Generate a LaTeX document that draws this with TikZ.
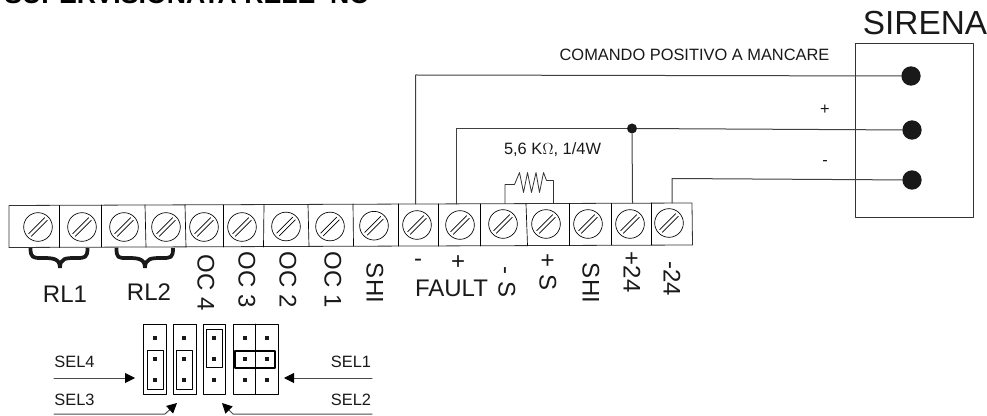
\documentclass[tikz,border=0pt]{standalone}
\usepackage{fontspec}
\setmainfont{Liberation Sans}
\usetikzlibrary{arrows.meta}
\tikzset{
  screw/.style={circle,draw,line width=0.5pt,inner sep=0pt,minimum size=21.5pt,
    path picture={\draw [line width=0.5pt] (-7pt,-5pt)-- (5pt,7pt);
      \draw [line width=0.5pt] (-5pt,-7pt)-- (7pt,5pt);}},
  wire/.style={line width=0.75pt,color=black!75},
  sel/.style={line width=0.75pt,color=black!70,-{Triangle[length=7.5pt,width=7.5pt,color=black]}},
  pin/.style={rectangle,fill=black!90,inner sep=0pt,minimum size=3.6pt},
  dot/.style={circle,fill=black!90,inner sep=0pt,minimum size=14.5pt},
  small/.style={font=\fontsize{12.3}{14}\selectfont,color=black!90,inner sep=0pt},
  big/.style={font=\fontsize{18}{20}\selectfont,color=black!90,inner sep=0pt},
  brace/.style={line width=2.8pt,line cap=butt,color=black!90},
}
\begin{document}
\begin{tikzpicture}[line cap=round,line join=round,x=0.75pt,y=-0.75pt]
\useasboundingbox (0,0) rectangle (987,416);
\node [anchor=base west,inner sep=0pt,font=\fontsize{20}{24}\bfseries\selectfont] (title) at (4,4) {SUPERVISIONATA RELE' NC};
% morsettiera
\draw [line width=0.6pt,color=black!80] (9,205.5)-- (692,203)-- (692.5,245)-- (9,247.5)-- cycle;
\draw [line width=0.5pt] (59,205.5)-- (59,247.5);
\draw [line width=0.5pt] (101,205)-- (101,247);
\draw [line width=0.5pt] (145,205)-- (146,247);
\draw [line width=0.5pt] (185,205)-- (186,247);
\draw [line width=0.5pt] (223,205)-- (223,247);
\draw [line width=0.5pt] (264,205)-- (263.5,247);
\draw [line width=0.5pt] (308,204.5)-- (309,246.5);
\draw [line width=0.5pt] (353,204)-- (353.5,246);
\draw [line width=0.5pt] (398,204)-- (398,246);
\draw [line width=0.5pt] (438,204)-- (438,246);
\draw [line width=0.5pt] (480,204)-- (480,246);
\draw [line width=0.5pt] (526,204)-- (527.5,245.5);
\draw [line width=0.5pt] (569,203.5)-- (569,245.5);
\draw [line width=0.5pt] (611,203.5)-- (611,245);
\draw [line width=0.5pt] (651,203)-- (651,245);
\node [screw] (t1) at (38,227) {};
\node [screw] (t2) at (82,227) {};
\node [screw] (t3) at (124,227) {};
\node [screw] (t4) at (166,227) {};
\node [screw] (t5) at (204,227) {};
\node [screw] (t6) at (242,227) {};
\node [screw] (t7) at (286,226.5) {};
\node [screw] (t8) at (330,226.5) {};
\node [screw] (t9) at (374,225.7) {};
\node [screw] (t10) at (417,225) {};
\node [screw] (t11) at (460,225) {};
\node [screw] (t12) at (503,224) {};
\node [screw] (t13) at (546,224) {};
\node [screw] (t14) at (588,224) {};
\node [screw] (t15) at (630,224) {};
\node [screw] (t16) at (669,223) {};
% sirena
\draw [line width=0.6pt,color=black!80] (855,43) rectangle (973,217);
\node [inner sep=0pt,font=\fontsize{25}{28}\selectfont,color=black!90] (sirena) at (925,23) {SIRENA};
\node [dot] (d1) at (911,76) {};
\node [dot] (d2) at (912,130) {};
\node [dot] (d3) at (912,180) {};
\node [circle,fill=black!90,inner sep=0pt,minimum size=7.5pt] (j1) at (632,128.5) {};
\coordinate (w1) at (415.5,204);
\coordinate (w2) at (456.5,204);
\coordinate (w3) at (672,203);
\coordinate (w4) at (632.5,203);
\draw [wire] (w1)-- (415.5,75)-- (d1);
\draw [wire] (w2)-- (456.5,128.5)-- (j1);
\draw [wire] (j1)-- (d2);
\draw [wire] (j1)-- (w4);
\draw [wire] (w3)-- (672,178.5)-- (d3);
\coordinate (r1) at (505,203.5);
\coordinate (r2) at (553.5,203);
\draw [line width=0.6pt,color=black!80] (r1)-- (505,184.5)-- (514.5,184.5)-- (519.5,172.5)-- (523.5,192.5)-- (527.5,172.5)-- (531.5,192.5)-- (536,172.5)-- (539.5,192.5)-- (543.5,172.5)-- (546.5,180.5)-- (553.5,180.5)-- (r2);
\node [small] (cmd) at (694.5,55) {COMANDO POSITIVO A MANCARE};
\node [small] (piu) at (825,110) {+};
\node [small] (meno) at (825,163) {-};
\node [small] (res) at (552.5,150) {5,6 K$\Omega$, 1/4W};
% graffe
\draw [brace] (30.5,248).. controls (30.5,258) and (33,258) .. (42,258).. controls (52,258) and (60,258) .. (60,268);
\draw [brace] (87.5,248).. controls (87.5,258) and (85,258) .. (76,258).. controls (66,258) and (60,258) .. (60,268);
\draw [brace] (116.5,248).. controls (116.5,258) and (118,258) .. (127,258).. controls (137,258) and (145,258) .. (145,268);
\draw [brace] (173,248).. controls (173,258) and (171,258) .. (162,258).. controls (152,258) and (145,258) .. (145,268);
\node [big] (rl1) at (65,294) {RL1};
\node [big] (rl2) at (149,292) {RL2};
\node [big,rotate=-90] (oc4) at (206,283) {OC 4};
\node [big,rotate=-90] (oc3) at (247,280) {OC 3};
\node [big,rotate=-90] (oc2) at (288,280) {OC 2};
\node [big,rotate=-90] (oc1) at (333,280) {OC 1};
\node [big,rotate=-90] (shi1) at (375,283) {SHI};
\node [big] (fm) at (418,263) {-};
\node [big] (fp) at (458,263) {+};
\node [big] (fault) at (451.5,288) {FAULT};
\node [big,rotate=-90] (sm) at (507,282) {- S};
\node [big,rotate=-90] (sp) at (548,272) {+ S};
\node [big,rotate=-90] (shi2) at (591,283) {SHI};
\node [big,rotate=-90] (p24) at (632,272) {+24};
\node [big,rotate=-90] (m24) at (672,279) {-24};
% ponticelli
\draw [line width=0.5pt] (143,324) rectangle (166,394);
\draw [line width=0.5pt] (173,324) rectangle (196,394);
\draw [line width=0.5pt] (203,324) rectangle (225,394);
\draw [line width=0.5pt] (233,324) rectangle (278,394);
\draw [line width=0.5pt] (255,324)-- (255,394);
\draw [line width=0.5pt] (147,350) rectangle (163,389);
\draw [line width=0.5pt] (176,350) rectangle (192,389);
\draw [line width=0.5pt] (206,329) rectangle (222,367);
\draw [line width=1.6pt] (235,351) rectangle (275,368);
\node [pin] (p1) at (155,338) {};
\node [pin] (p2) at (155,359) {};
\node [pin] (p3) at (155,380) {};
\node [pin] (p4) at (184,338) {};
\node [pin] (p5) at (184,359) {};
\node [pin] (p6) at (184,380) {};
\node [pin] (p7) at (214,338) {};
\node [pin] (p8) at (214,359) {};
\node [pin] (p9) at (214,380) {};
\node [pin] (p10) at (245,338) {};
\node [pin] (p11) at (245,359) {};
\node [pin] (p12) at (245,380) {};
\node [pin] (p13) at (267,338) {};
\node [pin] (p14) at (267,359) {};
\node [pin] (p15) at (267,380) {};
\node [small] (sel4) at (74.5,362) {SEL4};
\node [small] (sel3) at (74.5,400) {SEL3};
\node [small] (sel1) at (351,362) {SEL1};
\node [small] (sel2) at (351,400) {SEL2};
\coordinate (a4) at (54,378);
\coordinate (b4) at (135,378);
\coordinate (a1) at (372,378);
\coordinate (b1) at (284,378);
\coordinate (a3) at (54,414);
\coordinate (b3) at (177,403);
\coordinate (a2) at (372,414);
\coordinate (b2) at (222,403);
\draw [sel] (a4)-- (b4);
\draw [sel] (a1)-- (b1);
\draw [sel] (a3)-- (165,414)-- (b3);
\draw [sel] (a2)-- (233,414)-- (b2);
\end{tikzpicture}
\end{document}
